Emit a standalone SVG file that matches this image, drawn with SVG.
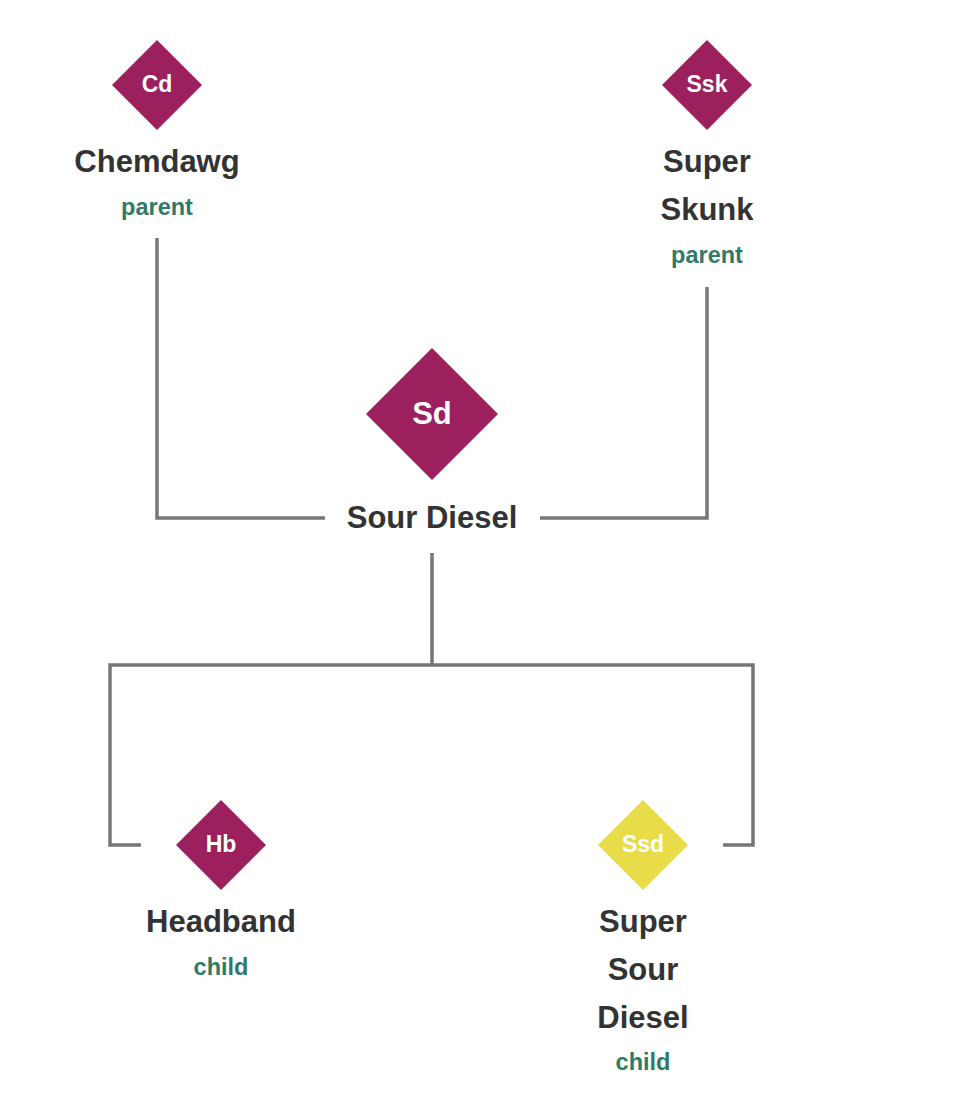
<svg xmlns="http://www.w3.org/2000/svg" width="960" height="1106" viewBox="0 0 960 1106">
<style>
.name{font-family:"Liberation Sans",Arial,sans-serif;font-weight:bold;font-size:31px;fill:#333333;text-anchor:middle}
.role{font-family:"Liberation Sans",Arial,sans-serif;font-weight:bold;font-size:23.5px;fill:#2f7a69;text-anchor:middle}
.abbr{font-family:"Liberation Sans",Arial,sans-serif;font-weight:bold;font-size:23px;fill:#ffffff;text-anchor:middle}
.abbrL{font-family:"Liberation Sans",Arial,sans-serif;font-weight:bold;font-size:31px;fill:#ffffff;text-anchor:middle}
.purple{fill:#9c1f5e}
.yellow{fill:#e8dc48}
.conn{fill:none;stroke:#777777;stroke-width:3.5}
</style>
<rect width="960" height="1106" fill="#ffffff"/>
<g id="connectors">
<polyline class="conn" points="157,238 157,518 325,518"/>
<polyline class="conn" points="707,287 707,518 540,518"/>
<line class="conn" x1="432" y1="553" x2="432" y2="665"/>
<polyline class="conn" points="141,845 110,845 110,665 753,665 753,845 723,845"/>
</g>
<g id="chemdawg">
<polygon class="purple" points="157,40 202,85 157,130 112,85"/>
<text class="abbr" x="157" y="92">Cd</text>
<text class="name" x="157" y="172">Chemdawg</text>
<text class="role" x="157" y="215">parent</text>
</g>
<g id="super-skunk">
<polygon class="purple" points="707,40 752,85 707,130 662,85"/>
<text class="abbr" x="707" y="92">Ssk</text>
<text class="name" x="707" y="172">Super</text>
<text class="name" x="707" y="220">Skunk</text>
<text class="role" x="707" y="263">parent</text>
</g>
<g id="sour-diesel">
<polygon class="purple" points="432,348 498,414 432,480 366,414"/>
<text class="abbrL" x="432" y="424">Sd</text>
<text class="name" x="432" y="528">Sour Diesel</text>
</g>
<g id="headband">
<polygon class="purple" points="221,800 266,845 221,890 176,845"/>
<text class="abbr" x="221" y="852">Hb</text>
<text class="name" x="221" y="932">Headband</text>
<text class="role" x="221" y="975">child</text>
</g>
<g id="super-sour-diesel">
<polygon class="yellow" points="643,800 688,845 643,890 598,845"/>
<text class="abbr" x="643" y="852">Ssd</text>
<text class="name" x="643" y="932">Super</text>
<text class="name" x="643" y="980">Sour</text>
<text class="name" x="643" y="1028">Diesel</text>
<text class="role" x="643" y="1070">child</text>
</g>
</svg>
